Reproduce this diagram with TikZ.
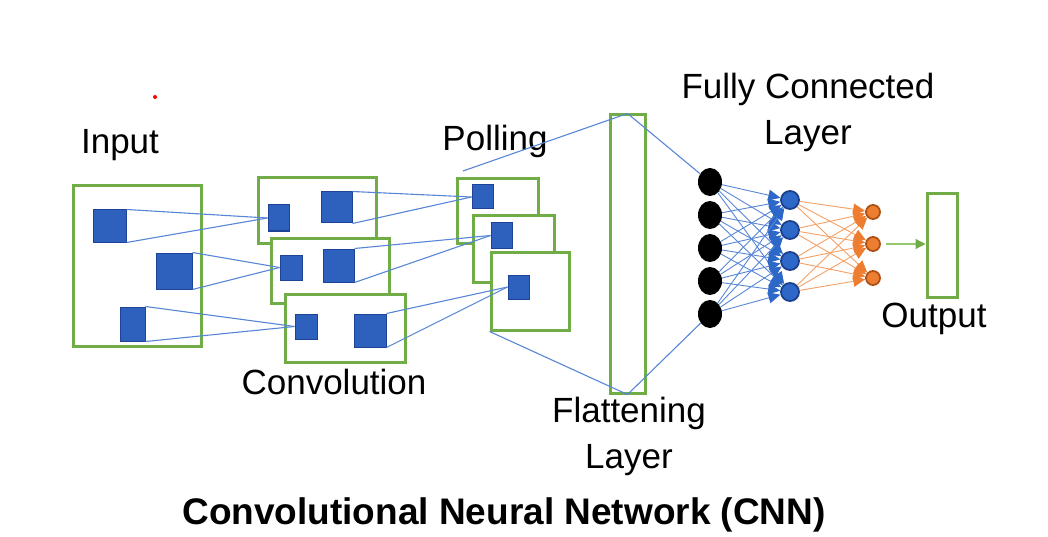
\documentclass[tikz,border=0pt]{standalone}
\usepackage{fontspec}
\setmainfont{Liberation Sans}
\usepackage{tikz}
\usetikzlibrary{arrows.meta,shapes.geometric}

\definecolor{cnngreen}{RGB}{112,173,71}
\definecolor{sqfill}{RGB}{46,96,190}
\definecolor{sqedge}{RGB}{30,66,150}
\definecolor{lnkblue}{RGB}{88,134,214}
\definecolor{fcblue}{RGB}{45,104,200}
\definecolor{fcbluedk}{RGB}{28,64,140}
\definecolor{lnkorange}{RGB}{245,160,100}
\definecolor{fcorange}{RGB}{237,125,49}
\definecolor{fcorangedk}{RGB}{175,80,20}
\definecolor{lnkgreen}{RGB}{150,200,110}

\begin{document}
\begin{tikzpicture}[x=1pt,y=-1pt,
  gbox/.style={draw=cnngreen,line width=3pt,fill=white,inner sep=0pt},
  sq/.style={draw=sqedge,fill=sqfill,line width=1pt,inner sep=0pt},
  lnk/.style={draw=lnkblue,line width=1.1pt},
  neur/.style={ellipse,fill=black,inner sep=0pt,minimum width=24pt,minimum height=28pt},
  bneur/.style={circle,fill=fcblue,draw=fcbluedk,line width=1.8pt,inner sep=0pt,minimum size=18pt},
  oneur/.style={circle,fill=fcorange,draw=fcorangedk,line width=1.8pt,inner sep=0pt,minimum size=14pt},
  barr/.style={draw=lnkblue,line width=0.9pt,-{Triangle[length=12pt,width=11pt,color=fcblue]}},
  oarr/.style={draw=lnkorange,line width=0.9pt,-{Triangle[length=12pt,width=11pt,color=fcorange]}},
  garr/.style={draw=lnkgreen,line width=1.2pt,-{Triangle[length=10pt,width=10pt,color=cnngreen]}},
  lbl/.style={font=\fontsize{35}{46}\selectfont,inner sep=0pt,anchor=north,align=center},
  ttl/.style={font=\bfseries\fontsize{37}{44}\selectfont,inner sep=0pt,anchor=north}
]
\useasboundingbox (0,0) rectangle (1048,537);
\node[fill=red,circle,inner sep=0pt,minimum size=4pt] (dot) at (155,97) {};
% ---------- input ----------
\node[gbox,minimum width=128pt,minimum height=160pt] (inp) at (137,266) {};
\node[sq,minimum width=33pt,minimum height=32pt] (a1) at (109.5,226) {};
\node[sq,minimum width=36pt,minimum height=36pt] (a2) at (174,271) {};
\node[sq,minimum width=25pt,minimum height=34pt] (a3) at (132.5,324) {};
\node[lbl] (tinp) at (120,129) {Input};
% ---------- convolution ----------
\node[gbox,minimum width=118pt,minimum height=65pt] (conv1) at (317,210.5) {};
\node[gbox,minimum width=118pt,minimum height=65pt] (conv2) at (330,270.5) {};
\node[gbox,minimum width=120pt,minimum height=68pt] (conv3) at (345,328) {};
\node[sq,minimum width=21pt,minimum height=26pt] (c1s) at (278.5,218) {};
\node[sq,minimum width=31pt,minimum height=31pt] (c1b) at (336.5,207.5) {};
\node[sq,minimum width=22pt,minimum height=25pt] (c2s) at (291,267.5) {};
\node[sq,minimum width=31pt,minimum height=33pt] (c2b) at (338.5,265.5) {};
\node[sq,minimum width=22pt,minimum height=25pt] (c3s) at (306,326.5) {};
\node[sq,minimum width=32pt,minimum height=33pt] (c3b) at (370,330.5) {};
\node[lbl] (tconv) at (334,369) {Convolution};
% ---------- pooling ----------
\node[gbox,minimum width=81pt,minimum height=64pt] (pool1) at (497.5,211) {};
\node[gbox,minimum width=81pt,minimum height=66pt] (pool2) at (513.5,249) {};
\node[gbox,minimum width=78pt,minimum height=78pt] (pool3) at (530,291) {};
\node[sq,minimum width=21pt,minimum height=24pt] (p1s) at (482.5,197) {};
\node[sq,minimum width=21pt,minimum height=25pt] (p2s) at (501.5,235.5) {};
\node[sq,minimum width=21pt,minimum height=24pt] (p3s) at (518.5,287) {};
\node[lbl] (tpool) at (495,125) {Polling};
\coordinate (ptop) at (463,171);
% ---------- flattening ----------
\node[gbox,minimum width=35pt,minimum height=278pt] (flat) at (627.5,254) {};
\node[lbl] (tflat) at (629,397) {Flattening\\Layer};
% ---------- fully connected ----------
\node[neur] (k1) at (710,182) {};
\node[neur] (k2) at (710,215) {};
\node[neur] (k3) at (710,248) {};
\node[neur] (k4) at (710,281) {};
\node[neur] (k5) at (710,314) {};
\node[bneur] (b1) at (790,200) {};
\node[bneur] (b2) at (790,230) {};
\node[bneur] (b3) at (790,261) {};
\node[bneur] (b4) at (790,292) {};
\node[oneur] (o1) at (873,212) {};
\node[oneur] (o2) at (873,244) {};
\node[oneur] (o3) at (873,278) {};
\node[lbl] (tfc) at (808,73) {Fully Connected\\Layer};
% ---------- output ----------
\node[gbox,minimum width=30pt,minimum height=103pt] (out) at (942,245.5) {};
\node[lbl] (tout) at (934,303) {Output};
\node[ttl] (title) at (504,497) {Convolutional Neural Network (CNN)};
% links
\draw[lnk] (a1.north east) -- (c1s.west);
\draw[lnk] (a1.south east) -- (c1s.west);
\draw[lnk] (a2.north east) -- (c2s.west);
\draw[lnk] (a2.south east) -- (c2s.west);
\draw[lnk] (a3.north east) -- (c3s.west);
\draw[lnk] (a3.south east) -- (c3s.west);
\draw[lnk] (c1b.north east) -- (p1s.west);
\draw[lnk] (c1b.south east) -- (p1s.west);
\draw[lnk] (c2b.north east) -- (p2s.west);
\draw[lnk] (c2b.south east) -- (p2s.west);
\draw[lnk] (c3b.north east) -- (p3s.west);
\draw[lnk] (c3b.south east) -- (p3s.west);
\draw[lnk] (ptop) -- (flat.north);
\draw[lnk] (pool3.south west) -- (flat.south);
\draw[lnk] (flat.north) -- (k1);
\draw[lnk] (flat.south) -- (k5);
\foreach \i in {1,...,5}
  \foreach \j in {1,...,4}
    \draw[barr] (k\i) -- (b\j);
\foreach \j in {1,...,4}
  \foreach \m in {1,2,3}
    \draw[oarr] (b\j) -- (o\m);
\draw[garr,shorten <=5pt] (o2.east) -- (o2.east -| out.west);
\end{tikzpicture}
\end{document}
